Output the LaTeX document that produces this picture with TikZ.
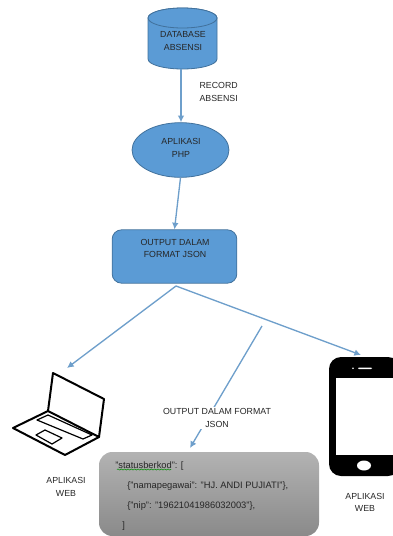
\documentclass[tikz,border=0pt]{standalone}
\usepackage{fontspec}
\setmainfont{Liberation Sans}
\usetikzlibrary{arrows.meta,shapes.geometric,decorations.pathmorphing}
\definecolor{fillblue}{HTML}{5B9BD5}
\definecolor{edgeblue}{HTML}{41719C}
\definecolor{linkblue}{HTML}{6E9FCB}
\tikzset{
  x=0.75pt,y=-0.75pt,
  flowbox/.style={draw=edgeblue,line width=0.6pt,fill=fillblue},
  lbl/.style={font=\fontsize{6.6}{9.4}\selectfont,align=center,text=black!85,inner sep=1pt},
  link/.style={draw=linkblue,line width=1pt,-{Latex[length=5pt,width=5pt]}},
  jsontext/.style={font=\fontsize{7}{8}\selectfont,anchor=west,inner sep=0pt,text=black!85},
  laptopline/.style={draw=black,line join=round,line cap=round}
}
\begin{document}
\begin{tikzpicture}
\useasboundingbox (0,0) rectangle (393,536);
% cylinder
\path[flowbox] (148,18) arc[x radius=34.5,y radius=10,start angle=180,end angle=360]
  -- (217,59) arc[x radius=34.5,y radius=10,start angle=0,end angle=180] -- cycle;
\path[flowbox] (182.5,18) ellipse[x radius=34.5,y radius=10];
\node[lbl] (db) at (183,41) {DATABASE\\ABSENSI};
\coordinate (dbb) at (181,69);
% php
\node[flowbox,ellipse,minimum width=72.7pt,minimum height=41pt,inner sep=0pt] (php) at (180.5,150) {};
\node[lbl] (phpt) at (181,148) {APLIKASI\\PHP};
% output box
\node[flowbox,rounded corners=7pt,minimum width=93.5pt,minimum height=40pt,inner sep=0pt] (out) at (174.5,256.5) {};
\node[lbl] (outt) at (175,248.5) {OUTPUT DALAM\\FORMAT JSON};
% connectors
\coordinate (split) at (176,286);
\coordinate (laptopend) at (67,368);
\coordinate (phoneend) at (361,355);
\coordinate (branch) at (262,326);
\coordinate (boxend) at (190,448);
\draw[link] (dbb) -- (php.north -| dbb);
\draw[link] (php.south) -- (out.north);
\draw[link] (split) -- (laptopend);
\draw[link] (split) -- (phoneend);
\draw[link] (branch) -- (boxend);
\node[lbl,anchor=west,align=left] (rec) at (198,92) {RECORD\\ABSENSI};
\node[lbl,fill=white] (jsonlabel) at (217,418) {OUTPUT DALAM FORMAT\\JSON};
% laptop
\draw[laptopline,line width=1.5pt] (48,411) -- (53,373) -- (104,399) -- (99,437);
\draw[laptopline,line width=1.5pt] (48,411) -- (13,428) -- (65,455) -- (99,437) -- (48,411);
\draw[laptopline,line width=0.9pt] (37,420) -- (48,415) -- (92,435) -- (83,439) -- cycle;
\draw[laptopline,line width=0.9pt] (36,435) -- (45,430) -- (62,438) -- (52,444) -- cycle;
\node[lbl] (l1) at (66,487) {APLIKASI\\WEB};
% phone
\fill[black,rounded corners=9pt] (329,357) rectangle (400,476);
\fill[white] (336,378) rectangle (393,455);
\fill[white] (364,465.5) ellipse[x radius=7,y radius=5];
\fill[white,rounded corners=0.7pt] (358,367.5) rectangle (372,369);
\fill[white] (353,368.2) circle[radius=0.8];
\node[lbl] (l2) at (365,502.5) {APLIKASI\\WEB};
% json box
\shade[top color=black!30,bottom color=black!46,rounded corners=10pt] (99,452) rectangle (319,536);
\node[jsontext] (j1) at (115,466) {"statusberkod": [};
\node[jsontext] (j2) at (127,486) {\{"namapegawai": "HJ. ANDI PUJIATI"\},};
\node[jsontext] (j3) at (127,506) {\{"nip": "19621041986032003"\},};
\node[jsontext] (j4) at (122,526) {]};
\draw[green!55!black,line width=0.4pt,decorate,decoration={snake,amplitude=0.4pt,segment length=2.5pt}] (117,469.5) -- (171,469.5);
\end{tikzpicture}
\end{document}
